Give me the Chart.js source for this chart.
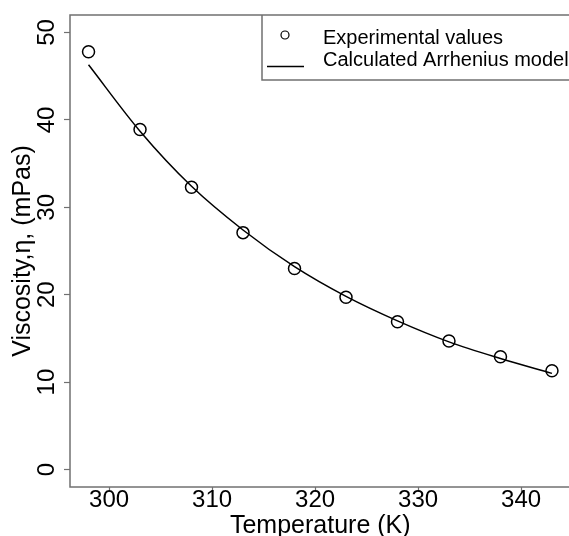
<!DOCTYPE html>
<html>
<head>
<meta charset="utf-8">
<script src="https://cdn.jsdelivr.net/npm/chart.js@4"></script>
<style>
html,body{margin:0;padding:0;background:#fff;overflow:hidden;width:569px;height:536px;}
#wrap{width:569px;height:536px;overflow:hidden;position:relative;}
#c{position:absolute;left:0;top:0;}
</style>
</head>
<body>
<div id="wrap"><canvas id="c" width="578" height="536"></canvas></div>
<script>
// ---- data ----
const temperatures = [298, 303, 308, 313, 318, 323, 328, 333, 338, 343];
const experimentalViscosity = [47.8, 38.9, 32.3, 27.1, 23.0, 19.7, 16.9, 14.7, 12.9, 11.3];
const modelViscosity = [46.3, 38.7, 32.4, 27.4, 23.2, 19.8, 17.0, 14.6, 12.7, 11.0];
const xTickValues = [300, 310, 320, 330, 340];
const yTickValues = [0, 10, 20, 30, 40, 50];
const seriesNames = ['Experimental values', 'Calculated Arrhenius model'];
const xTitle = 'Temperature (K)';
const yTitle = 'Viscosity,\u03b7, (mPas)';

const FONT = '"Liberation Sans", Arial, sans-serif';
const AXIS_GRAY = '#707070';

const pts = temperatures.map((t, i) => ({x: t, y: experimentalViscosity[i]}));
const line = temperatures.map((t, i) => ({x: t, y: modelViscosity[i]}));

const boxPlugin = {
  id: 'boxPlugin',
  afterDraw(chart) {
    const {ctx, chartArea: a} = chart;
    ctx.save();
    ctx.strokeStyle = AXIS_GRAY;
    ctx.lineWidth = 1.5;
    // full plot frame (its right side falls just outside the visible window)
    ctx.strokeRect(a.left, a.top, a.right - a.left, a.bottom - a.top);
    // legend box
    const lx = 262, ly = a.top, lb = 80, lr = chart.width + 5;
    ctx.fillStyle = '#fff';
    ctx.fillRect(lx, ly + 1, lr - lx, lb - ly - 1);
    ctx.beginPath();
    ctx.moveTo(lx, ly);
    ctx.lineTo(lx, lb);
    ctx.lineTo(lr, lb);
    ctx.stroke();
    // legend entries
    ctx.strokeStyle = '#000';
    ctx.lineWidth = 1.2;
    ctx.beginPath();
    ctx.arc(285, 35, 4, 0, Math.PI * 2);
    ctx.stroke();
    ctx.lineWidth = 1.3;
    ctx.beginPath();
    ctx.moveTo(267, 66.5);
    ctx.lineTo(304, 66.5);
    ctx.stroke();
    ctx.fillStyle = '#000';
    ctx.font = '20px ' + FONT;
    ctx.textBaseline = 'middle';
    ctx.textAlign = 'left';
    ctx.fillText(chart.data.datasets[0].label, 323, 38);
    ctx.fillText(chart.data.datasets[1].label, 323, 60);
    ctx.restore();
  }
};

new Chart(document.getElementById('c'), {
  type: 'scatter',
  data: {
    datasets: [
      {
        label: seriesNames[0],
        data: pts,
        showLine: false,
        pointStyle: 'circle',
        pointRadius: 6,
        pointBorderWidth: 1.5,
        pointBorderColor: '#000',
        pointBackgroundColor: 'rgba(0,0,0,0)',
        order: 1
      },
      {
        label: seriesNames[1],
        data: line,
        showLine: true,
        pointRadius: 0,
        borderColor: '#000',
        borderWidth: 1.5,
        cubicInterpolationMode: 'monotone',
        order: 2
      }
    ]
  },
  options: {
    responsive: false,
    animation: false,
    events: [],
    layout: {padding: {top: 14, left: 0, right: 0, bottom: 0}},
    plugins: {legend: {display: false}, tooltip: {enabled: false}},
    scales: {
      x: {
        type: 'linear',
        min: 296.2,
        max: 344.8,
        afterFit(s) { s.height = 49; },
        afterBuildTicks(s) { s.ticks = xTickValues.map(v => ({value: v})); },
        border: {display: false},
        grid: {drawOnChartArea: false, drawTicks: true, tickLength: 5, tickColor: AXIS_GRAY, tickWidth: 1.2},
        ticks: {
          color: '#000', padding: -4, maxRotation: 0, minRotation: 0,
          font: {family: FONT, size: 24, lineHeight: 1}
        },
        title: {
          display: true, text: xTitle, color: '#000',
          font: {family: FONT, size: 25, lineHeight: 0.8},
          padding: {top: 0, bottom: 0}
        }
      },
      y: {
        type: 'linear',
        min: -2,
        max: 52,
        afterFit(s) { s.width = 70; },
        afterBuildTicks(s) { s.ticks = yTickValues.map(v => ({value: v})); },
        border: {display: false},
        grid: {drawOnChartArea: false, drawTicks: true, tickLength: 6, tickColor: AXIS_GRAY, tickWidth: 1.2},
        ticks: {
          color: '#000', padding: 3, minRotation: 90, maxRotation: 90, crossAlign: 'center',
          font: {family: FONT, size: 24, lineHeight: 1}
        },
        title: {
          display: true, text: yTitle, color: '#000',
          font: {family: FONT, size: 25, lineHeight: 0.8},
          padding: {top: 13, bottom: 0}
        }
      }
    }
  },
  plugins: [boxPlugin]
});
</script>
</body>
</html>
